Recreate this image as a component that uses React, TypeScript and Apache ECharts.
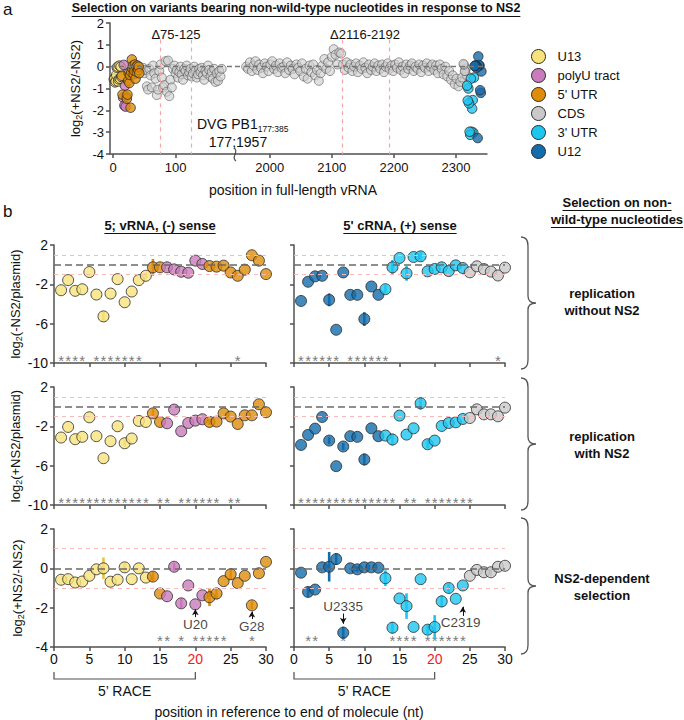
import React, { useEffect, useRef } from "react";
import * as echarts from "echarts";

const FONT = '"Liberation Sans", Arial, Helvetica, sans-serif';
const AX = "#505050";
const TXT = "#111111";

// ---------------- regions ----------------
const REGION_NAMES = ["U13", "polyU tract", "5' UTR", "CDS", "3' UTR", "U12"];
const REGION_COLORS = ["#f8e27c", "#c97bbb", "#de8c0a", "#c9c9c9", "#1ec5f0", "#136cab"];
const REGION_BAR_COLORS = ["#e6c44a", "#c26db2", "#de8c0a", "#a9a9a9", "#1ec5f0", "#136cab"];

// ---------------- panel b data ----------------
const POSITIONS = [1, 2, 3, 4, 5, 6, 7, 8, 9, 10, 11, 12, 13, 14, 15, 16, 17, 18, 19, 20, 21, 22, 23, 24, 25, 26, 27, 28, 29, 30];
// region index per position (0 U13, 1 polyU, 2 5'UTR, 3 CDS, 4 3'UTR, 5 U12)
const V_REGION = [0, 0, 0, 0, 0, 0, 0, 0, 0, 0, 0, 0, 0, 2, 2, 1, 1, 1, 1, 1, 1, 2, 2, 2, 2, 2, 2, 2, 2, 2];
const C_REGION = [5, 5, 5, 5, 5, 5, 5, 5, 5, 5, 5, 5, 4, 4, 4, 4, 4, 4, 4, 4, 4, 4, 4, 4, 3, 3, 3, 3, 3, 3];

// 5' vRNA, (-) sense
const V_NO_NS2 = [-2.6, -1.57, -2.66, -2.5, -0.75, -3.04, -5.26, -2.94, -1.47, -3.82, -2.73, -1.57, -1.13, -0.27, -0.27, -0.27, -0.48, -0.72, -0.82, 0.41, 0.07, -0.14, -0.2, -0.1, -0.79, -1.13, -0.51, 0.96, 0.41, -0.96];
const V_NO_NS2_ERR = [0, 0, 0, 0, 0, 0, 0.55, 0, 0, 0, 0, 0, 0.3, 0.85, 0, 0, 0, 0, 0, 0, 0, 0, 0, 0, 0, 0, 0, 0, 0, 0];
const V_NS2 = [-3.14, -2.06, -3.31, -3.07, -1.08, -3.0, -5.24, -3.51, -1.99, -3.72, -3.24, -1.45, -1.55, -0.68, -1.55, -1.69, -0.3, -2.5, -1.66, -1.42, -1.28, -1.55, -1.52, -0.68, -1.01, -1.76, -0.88, -0.88, 0.24, -0.57];
const V_NS2_ERR = [0, 0, 0, 0, 0, 0, 0, 0, 0, 0.3, 0, 0, 0, 0.45, 0, 0, 0, 0, 0, 0, 0, 0.3, 0, 0, 0, 0, 0, 0, 0, 0];
const V_RATIO = [-0.58, -0.55, -0.72, -0.67, -0.38, -0.05, 0.0, -0.68, -0.58, 0.05, -0.55, 0.0, -0.47, -0.42, -1.28, -1.42, 0.08, -1.78, -0.87, -1.83, -1.37, -1.47, -1.28, -0.65, -0.3, -0.75, -0.38, -1.88, -0.25, 0.33];
const V_RATIO_ERR = [0, 0, 0, 0, 0, 0, 0.55, 0, 0, 0.25, 0, 0, 0, 0.25, 0, 0, 0.2, 0.25, 0, 0, 0, 0.45, 0.3, 0, 0.3, 0, 0, 0.2, 0, 0];

// 5' cRNA, (+) sense
const C_NO_NS2 = [-3.69, -1.74, -1.19, -1.13, -3.58, -6.62, -0.79, -3.07, -3.07, -5.53, -2.22, -3.07, -2.49, -0.27, 0.68, -0.89, 0.78, 0.85, -0.68, -0.44, -0.27, -0.65, -0.07, -0.34, -0.78, -0.17, -0.45, -0.7, -1.1, -0.3];
const C_NO_NS2_ERR = [0, 0, 0, 0, 0.65, 0, 0, 0, 0, 0.7, 0, 0, 0.45, 0.75, 0, 0.75, 0, 0.45, 0, 0, 0, 0, 0, 0, 0, 0, 0, 0, 0, 0];
const C_NS2 = [-3.89, -2.87, -2.23, -1.05, -3.45, -6.05, -4.05, -3.0, -3.07, -5.37, -2.2, -3.0, -2.94, -3.34, -0.91, -2.84, -2.2, 0.34, -3.82, -3.45, -1.96, -1.66, -1.59, -1.25, -1.15, -0.27, -0.78, -0.78, -0.98, -0.1];
const C_NS2_ERR = [0, 0, 0, 0, 0.35, 0, 0.35, 0, 0, 0.6, 0, 0, 0, 0.6, 0, 0, 0, 0.65, 0.4, 0, 0, 0, 0, 0, 0, 0, 0, 0, 0, 0];
const C_RATIO = [-0.22, -1.2, -1.08, 0.05, 0.08, 0.47, -3.27, 0.0, -0.05, 0.05, 0.05, 0.03, -0.5, -3.02, -1.53, -1.92, -2.98, -0.55, -3.12, -2.98, -1.68, -1.0, -1.55, -0.87, -0.38, -0.08, -0.2, -0.2, 0.08, 0.13];
const C_RATIO_ERR = [0, 0.25, 0, 0, 0.75, 0.3, 0.3, 0, 0.15, 0, 0, 0, 0.4, 0.3, 0, 0.65, 0, 0, 0.25, 0.6, 0.3, 0.25, 0, 0, 0, 0, 0, 0.2, 0, 0];

// significance asterisks (positions)
const STARS_V1 = [1, 2, 3, 4, 6, 7, 8, 9, 10, 11, 12, 26];
const STARS_C1 = [1, 2, 3, 4, 5, 6, 8, 9, 10, 11, 12, 13, 29];
const STARS_V2 = [1, 2, 3, 4, 5, 6, 7, 8, 9, 10, 11, 12, 13, 15, 16, 18, 19, 20, 21, 22, 23, 25, 26];
const STARS_C2 = [1, 2, 3, 4, 5, 6, 7, 8, 9, 10, 11, 12, 13, 14, 16, 17, 19, 20, 21, 22, 23, 24, 25];
const STARS_V3 = [15, 16, 18, 20, 21, 22, 23, 24, 28];
const STARS_C3 = [2, 3, 7, 14, 15, 16, 17, 19, 20, 21, 22, 23, 24];

// annotations: [label, position, label y, arrow from, arrow to]
const ANNOT_V = [["U20", 20, -2.86, -2.48, -2.08], ["G28", 28, -2.95, -2.58, -2.2]];
const ANNOT_C = [["U2335", 7, -1.92, -2.3, -2.82], ["C2319", 23.7, -2.75, -2.42, -1.95]];
const RACE_RANGE = [0, 20];

// ---------------- panel a data ----------------
const FULL_LENGTH = 2341;
const A_UTR5_EXTRA_START = 31; // extra 5' UTR positions 31..42
const A_UTR5_EXTRA = [-0.1, 0.05, -0.35, -0.2, 0.1, -0.55, 0.0, -0.25, 0.05, -0.15, 0.0, -0.3];
const A_CDS_LEFT_START = 44;
const A_CDS_LEFT_STEP = 2;
const A_CDS_LEFT = [
  -0.1, -0.2, -0.05, -0.3, -0.15, -0.9, -1.05, -0.1, -0.4, -0.95,
  0.05, -0.3, -0.55, -1.3, -1.05, -0.2, 0.1, -0.5, -0.95, -0.85,
  0.25, -1.15, 0.28, -1.35, -0.6, -0.95, -0.1, 0.05, -0.3, -0.15,
  -0.5, -0.25, 0.0, -0.35, -0.6, -0.1, -0.2, 0.05, -0.4, -0.25,
  -0.1, -0.45, -0.3, 0.0, -0.2, -0.5, -0.35, -0.1, -0.25, -0.05,
  -0.4, -0.6, -0.2, -0.3, 0.05, -0.15, -0.45, -0.25, -0.55, -0.1,
  -0.7, -0.3, -0.65, -0.2, -0.45, -0.1,
];
const A_CDS_RIGHT_START = 1962;
const A_CDS_RIGHT_STEP = 3;
const A_CDS_RIGHT = [
  0.0, -0.1, 0.2, -0.2, 0.05, 0.25, -0.15, 0.1, -0.05, -0.3,
  0.15, 0.0, -0.2, 0.1, 0.25, -0.1, 0.05, -0.25, 0.15, -0.05,
  0.0, -0.3, 0.2, -0.15, 0.05, -0.1, -0.35, 0.1, -0.05, -0.2,
  0.15, -0.45, -0.1, -0.55, 0.05, -0.25, 0.1, -0.4, -0.15, -0.65,
  -0.3, 0.05, 0.35, -0.1, 0.2, -0.2, 0.45, 0.8, 0.55, 0.1,
  0.65, 0.6, 0.1, -0.15, 0.2, -0.05, 0.1, -0.2, 0.0, 0.15,
  -0.25, 0.05, -0.1, 0.2, -0.05, -0.3, 0.1, -0.15, 0.0, 0.15,
  -0.2, 0.05, -0.1, 0.1, -0.25, 0.0, 0.15, -0.1, 0.05, -0.2,
  0.1, -0.05, 0.2, -0.15, 0.0, -0.3, 0.1, -0.1, 0.05, 0.15,
  -0.2, 0.0, -0.1, 0.1, -0.25, 0.05, -0.05, 0.15, -0.2, 0.0,
  0.1, -0.15, 0.05, -0.3, 0.1, -0.1, -0.35, 0.0, -0.45, -0.2,
  -0.6, -0.4, -0.8, -0.55, -0.9, -0.7, -0.5,
];
const A_DELETIONS = [[75, 125], [2116, 2192]];

// ---------------- texts ----------------
const TITLE_A = "Selection on variants bearing non-wild-type nucleotides in response to NS2";
const ROW_Y_NAMES = ["log{s|2}(-NS2/plasmid)", "log{s|2}(+NS2/plasmid)", "log{s|2}(+NS2/-NS2)"];
const ROW_LABELS = ["replication\nwithout NS2", "replication\nwith NS2", "NS2-dependent\nselection"];

// ---------------- layout ----------------
const GRIDS = [
  { left: 110, top: 23, width: 125, height: 131 },
  { left: 235, top: 23, width: 252, height: 131 },
  { left: 54, top: 245, width: 212, height: 118 },
  { left: 294, top: 245, width: 211, height: 118 },
  { left: 54, top: 387, width: 212, height: 118 },
  { left: 294, top: 387, width: 211, height: 118 },
  { left: 54, top: 529, width: 212, height: 118 },
  { left: 294, top: 529, width: 211, height: 118 },
];

function bracePath(h: number) {
  const m = h / 2;
  return `M0 0 C5 0 7 3 7 9 L7 ${m - 7} C7 ${m - 2} 10 ${m} 15 ${m} C10 ${m} 7 ${m + 2} 7 ${m + 7} L7 ${h - 9} C7 ${h - 3} 5 ${h} 0 ${h}`;
}
const BRACES = [
  { name: "brace1", y: 237, h: 132 },
  { name: "brace2", y: 378, h: 132 },
  { name: "brace3", y: 518, h: 136 },
];
BRACES.forEach((b) => {
  echarts.graphic.registerShape(b.name, echarts.graphic.extendPath(bracePath(b.h), {}) as any);
});

function textWidth(text: string, font: string) {
  const c = document.createElement("canvas").getContext("2d");
  if (!c) return text.length * 7;
  c.font = font;
  return c.measureText(text).width;
}

function underlined(id: string, text: string, cx: number, cy: number, fs: number) {
  const w = textWidth(text, `bold ${fs}px "Liberation Sans", Arial`);
  const uy = Math.round(cy + fs * 0.62) + 0.5;
  return [
    { type: "text", id, x: cx, y: cy, style: { text, fontSize: fs, fontWeight: "bold", fontFamily: FONT, fill: TXT, align: "center", verticalAlign: "middle" } },
    { type: "line", id: id + "-u", shape: { x1: cx - w / 2, y1: uy, x2: cx + w / 2, y2: uy }, style: { stroke: TXT, lineWidth: 1 } },
  ];
}

function baseAxis(fs: number, margin: number) {
  return {
    axisLine: { show: true, onZero: false, lineStyle: { color: AX, width: 1.5 } },
    axisTick: { show: true, length: 4, lineStyle: { color: AX, width: 1.5 } },
    axisLabel: { color: TXT, fontSize: fs, fontFamily: FONT, margin },
    splitLine: { show: false },
  };
}

function buildOption() {
  const xAxis: any[] = [];
  const yAxis: any[] = [];
  const series: any[] = [];

  // ---------- panel a axes ----------
  const ba = baseAxis(13, 6);
  xAxis.push({
    type: "value", gridIndex: 0, min: -5, max: 195.3, ...ba,
    axisTick: { ...ba.axisTick, customValues: [0, 100] },
    axisLabel: { ...ba.axisLabel, margin: 7, customValues: [0, 100], formatter: (v: number) => String(v) },
  });
  xAxis.push({
    type: "value", gridIndex: 1, min: 1944, max: 2350, ...ba,
    axisTick: { ...ba.axisTick, customValues: [2000, 2100, 2200, 2300] },
    axisLabel: { ...ba.axisLabel, margin: 7, customValues: [2000, 2100, 2200, 2300], formatter: (v: number) => String(v) },
  });
  yAxis.push({
    type: "value", gridIndex: 0, min: -4, max: 2, interval: 1, ...ba,
    name: "log{s|2}(+NS2/-NS2)", nameLocation: "middle", nameRotate: 90, nameGap: 27,
    nameTextStyle: { color: TXT, fontSize: 13, fontFamily: FONT, rich: { s: { fontSize: 9, fontFamily: FONT, padding: [7, 0, 0, 0] } } },
  });
  yAxis.push({ type: "value", gridIndex: 1, min: -4, max: 2, show: false });

  // ---------- panel a series ----------
  const cdsLeft = A_CDS_LEFT.map((v, i) => [A_CDS_LEFT_START + i * A_CDS_LEFT_STEP, v]);
  const cdsRight = A_CDS_RIGHT.map((v, i) => [A_CDS_RIGHT_START + i * A_CDS_RIGHT_STEP, v]);
  POSITIONS.forEach((p, i) => { if (C_REGION[i] === 3) cdsRight.push([FULL_LENGTH + 1 - p, C_RATIO[i]]); });
  const grayStyle = { color: "rgba(206,206,206,0.78)", borderColor: "rgba(70,70,70,0.85)", borderWidth: 0.8 };
  const pinkDash = { color: "#f4a5a5", type: [4, 4], width: 1.2 };
  const grayDash = { color: "#777", type: [5, 4], width: 1.3 };
  [0, 1].forEach((g) => {
    const dels = A_DELETIONS[g];
    series.push({
      type: "scatter", name: "CDS", xAxisIndex: g, yAxisIndex: g, z: 2, symbolSize: 9,
      itemStyle: grayStyle, data: g === 0 ? cdsLeft : cdsRight,
      markLine: {
        silent: true, symbol: ["none", "none"], label: { show: false },
        data: [
          { yAxis: 0, lineStyle: grayDash },
          [{ coord: [dels[0], 1.25], lineStyle: pinkDash }, { coord: [dels[0], -4] }],
          [{ coord: [dels[1], 1.25], lineStyle: pinkDash }, { coord: [dels[1], -4] }],
        ],
      },
    });
  });
  [0, 1, 2, 4, 5].forEach((ri) => {
    const data: number[][] = [];
    const left = ri <= 2;
    if (left) {
      POSITIONS.forEach((p, i) => { if (V_REGION[i] === ri) data.push([p, V_RATIO[i]]); });
      if (ri === 2) A_UTR5_EXTRA.forEach((v, i) => data.push([A_UTR5_EXTRA_START + i, v]));
    } else {
      POSITIONS.forEach((p, i) => { if (C_REGION[i] === ri) data.push([FULL_LENGTH + 1 - p, C_RATIO[i]]); });
    }
    series.push({
      type: "scatter", name: REGION_NAMES[ri], xAxisIndex: left ? 0 : 1, yAxisIndex: left ? 0 : 1, z: 3,
      symbolSize: 9.5, itemStyle: { color: REGION_COLORS[ri], borderColor: "#2a2a2a", borderWidth: 1 }, data,
    });
  });

  // ---------- panel b ----------
  const panels = [
    { vals: V_NO_NS2, errs: V_NO_NS2_ERR, reg: V_REGION, stars: STARS_V1 },
    { vals: C_NO_NS2, errs: C_NO_NS2_ERR, reg: C_REGION, stars: STARS_C1 },
    { vals: V_NS2, errs: V_NS2_ERR, reg: V_REGION, stars: STARS_V2 },
    { vals: C_NS2, errs: C_NS2_ERR, reg: C_REGION, stars: STARS_C2 },
    { vals: V_RATIO, errs: V_RATIO_ERR, reg: V_REGION, stars: STARS_V3 },
    { vals: C_RATIO, errs: C_RATIO_ERR, reg: C_REGION, stars: STARS_C3 },
  ];
  panels.forEach((pn, k) => {
    const gi = k + 2;
    const row = Math.floor(k / 2);
    const col = k % 2;
    const bb = baseAxis(14, 6);
    xAxis.push({
      type: "value", gridIndex: gi, min: 0, max: 30, interval: 5, ...bb,
      axisLabel: {
        ...bb.axisLabel, show: row === 2, margin: 5,
        formatter: (v: number) => (v === 20 ? "{r|20}" : String(v)),
        rich: { r: { color: "#ee1c24", fontSize: 14, fontFamily: FONT } },
      },
    });
    const yBase: any = row < 2
      ? { min: -10, max: 2, axisTick: { ...bb.axisTick, customValues: [-10, -6, -2, 2] }, axisLabel: { ...bb.axisLabel, show: col === 0, customValues: [-10, -6, -2, 2] } }
      : { min: -4, max: 2, interval: 2, axisTick: bb.axisTick, axisLabel: { ...bb.axisLabel, show: col === 0 } };
    yAxis.push({
      type: "value", gridIndex: gi, axisLine: bb.axisLine, splitLine: { show: false }, ...yBase,
      ...(col === 0
        ? {
            name: ROW_Y_NAMES[row], nameLocation: "middle", nameRotate: 90, nameGap: 29,
            nameTextStyle: { color: TXT, fontSize: 13, fontFamily: FONT, rich: { s: { fontSize: 9, fontFamily: FONT, padding: [7, 0, 0, 0] } } },
          }
        : {}),
    });
    const starY = row < 2 ? -9.75 : -3.68;
    // reference lines + asterisks
    series.push({
      type: "scatter", name: "stars-" + k, xAxisIndex: gi, yAxisIndex: gi, z: 1, silent: true, symbolSize: 1,
      itemStyle: { color: "transparent" },
      label: { show: true, formatter: "*", position: "inside", fontSize: 15, color: "#555", fontFamily: FONT, lineHeight: 11 },
      data: pn.stars.map((p) => [p, starY]),
      markLine: {
        silent: true, symbol: ["none", "none"], label: { show: false },
        data: [
          { yAxis: 1, lineStyle: { color: "#f7b9b9", type: [4, 4], width: 1.2 } },
          { yAxis: -1, lineStyle: { color: "#f7b9b9", type: [4, 4], width: 1.2 } },
          { yAxis: 0, lineStyle: { color: "#6a6a6a", type: [7, 4], width: 1.5 } },
        ],
      },
    });
    // error bars
    series.push({
      type: "custom", name: "err-" + k, xAxisIndex: gi, yAxisIndex: gi, z: 2, silent: true,
      data: POSITIONS.map((p, i) => [p, pn.vals[i], pn.errs[i], pn.reg[i]]).filter((d) => d[2] > 0),
      renderItem: (_params: any, api: any) => {
        const x = api.value(0), y = api.value(1), e = api.value(2), r = api.value(3);
        const a = api.coord([x, y + e]);
        const b = api.coord([x, y - e]);
        return { type: "line", shape: { x1: a[0], y1: a[1], x2: b[0], y2: b[1] }, style: { stroke: REGION_BAR_COLORS[r], lineWidth: 2.6 } };
      },
    });
    // points
    series.push({
      type: "scatter", name: "pts-" + k, xAxisIndex: gi, yAxisIndex: gi, z: 3, symbolSize: 11,
      data: POSITIONS.map((p, i) => ({ value: [p, pn.vals[i]], itemStyle: { color: REGION_COLORS[pn.reg[i]], borderColor: "#2a2a2a", borderWidth: 1 } })),
    });
    if (row === 2) {
      const ann = col === 0 ? ANNOT_V : ANNOT_C;
      series.push({
        type: "scatter", name: "ann-" + k, xAxisIndex: gi, yAxisIndex: gi, z: 4, silent: true, symbolSize: 1,
        itemStyle: { color: "transparent" },
        label: { show: true, formatter: "{b}", position: "inside", fontSize: 13.5, lineHeight: 14, color: TXT, fontFamily: FONT },
        data: ann.map((a) => ({ name: a[0], value: [a[1], a[2]] })),
        markLine: {
          silent: true, symbol: ["none", "arrow"], symbolSize: [5, 6], label: { show: false },
          lineStyle: { color: TXT, type: "solid", width: 1 },
          data: ann.map((a) => [{ coord: [Math.round(a[1] as number), a[3]] }, { coord: [Math.round(a[1] as number), a[4]] }]),
        },
      });
    }
  });

  // ---------- graphics ----------
  const graphic: any[] = [
    { type: "text", id: "lbl-a", x: 3, y: 1, style: { text: "a", fontSize: 17, fontFamily: FONT, fill: TXT } },
    { type: "text", id: "lbl-b", x: 3, y: 203, style: { text: "b", fontSize: 17, fontFamily: FONT, fill: TXT } },
    ...underlined("title-a", TITLE_A, 296, 8, 12.5),
    ...underlined("title-v", "5; vRNA, (-) sense", 160, 225, 13),
    ...underlined("title-c", "5' cRNA, (+) sense", 400, 225, 13),
    ...underlined("hdr-1", "Selection on non-", 617, 202, 13),
    ...underlined("hdr-2", "wild-type nucleotides", 617, 219, 13),
    { type: "text", id: "del1", x: 176, y: 34, style: { text: "\u039475-125", fontSize: 13, fontFamily: FONT, fill: TXT, align: "center", verticalAlign: "middle" } },
    { type: "text", id: "del2", x: 365, y: 34, style: { text: "\u03942116-2192", fontSize: 13, fontFamily: FONT, fill: TXT, align: "center", verticalAlign: "middle" } },
    {
      type: "text", id: "dvg", x: 197, y: 124,
      style: { text: "DVG PB1{s|177:385}", fontSize: 14, fontFamily: FONT, fill: TXT, verticalAlign: "middle", rich: { s: { fontSize: 8.5, fontFamily: FONT, fill: TXT, padding: [9, 0, 0, 0] } } },
    },
    { type: "text", id: "dvg2", x: 238, y: 142, style: { text: "177;1957", fontSize: 14, fontFamily: FONT, fill: TXT, align: "center", verticalAlign: "middle" } },
    { type: "bezierCurve", id: "brk", shape: { x1: 234, y1: 148, x2: 236, y2: 161, cpx1: 240, cpy1: 152, cpx2: 230, cpy2: 157 }, style: { stroke: AX, lineWidth: 1.2, fill: "none" } },
    { type: "text", id: "xa-name", x: 293, y: 190, style: { text: "position in full-length vRNA", fontSize: 14, fontFamily: FONT, fill: TXT, align: "center", verticalAlign: "middle" } },
    { type: "text", id: "xb-name", x: 289, y: 712, style: { text: "position in reference to end of molecule (nt)", fontSize: 14, fontFamily: FONT, fill: TXT, align: "center", verticalAlign: "middle" } },
  ];
  const rowCenters = [302, 445, 587];
  ROW_LABELS.forEach((t, i) => {
    graphic.push({ type: "text", id: "row-" + i, x: 602, y: rowCenters[i], style: { text: t, fontSize: 13, fontWeight: "bold", fontFamily: FONT, fill: TXT, align: "center", verticalAlign: "middle", lineHeight: 17 } });
  });
  BRACES.forEach((b) => {
    graphic.push({ type: b.name, id: b.name, x: 521, y: b.y, style: { stroke: "#555", fill: "none", lineWidth: 1.3 } });
  });

  return {
    animation: false,
    backgroundColor: "#ffffff",
    textStyle: { fontFamily: FONT },
    grid: GRIDS.map((g) => ({ ...g, containLabel: false })),
    xAxis,
    yAxis,
    legend: {
      orient: "vertical", left: 526, top: 44, itemWidth: 22, itemHeight: 14, itemGap: 4,
      icon: "circle", selectedMode: false,
      textStyle: { fontSize: 13, fontFamily: FONT, color: TXT, padding: [0, 0, 0, 3] },
      data: REGION_NAMES.map((n, i) => ({ name: n, itemStyle: { color: REGION_COLORS[i], borderColor: "#2a2a2a", borderWidth: 1, opacity: 1 } })),
    },
    series,
    graphic,
  };
}

export default function App() {
  const ref = useRef<HTMLDivElement>(null);
  useEffect(() => {
    if (!ref.current) return;
    const chart = echarts.init(ref.current, null, { renderer: "svg" });
    chart.setOption(buildOption() as any);
    const extra: any[] = [];
    [[6, "l"], [7, "r"]].forEach(([xi, k]) => {
      const x0 = chart.convertToPixel({ xAxisIndex: xi as number }, RACE_RANGE[0]) as unknown as number;
      const x1 = chart.convertToPixel({ xAxisIndex: xi as number }, RACE_RANGE[1]) as unknown as number;
      extra.push({ type: "polyline", id: "race-" + k, shape: { points: [[x0, 672], [x0, 679], [x1, 679], [x1, 672]] }, style: { stroke: AX, fill: "none", lineWidth: 1.2 } });
      extra.push({ type: "text", id: "race-t-" + k, x: (x0 + x1) / 2, y: 691, style: { text: "5\u2019 RACE", fontSize: 14, fontFamily: FONT, fill: TXT, align: "center", verticalAlign: "middle" } });
    });
    chart.setOption({ graphic: extra } as any);
    return () => chart.dispose();
  }, []);
  return <div ref={ref} style={{ position: "absolute", left: 0, top: 0, width: 684, height: 720 }} />;
}
